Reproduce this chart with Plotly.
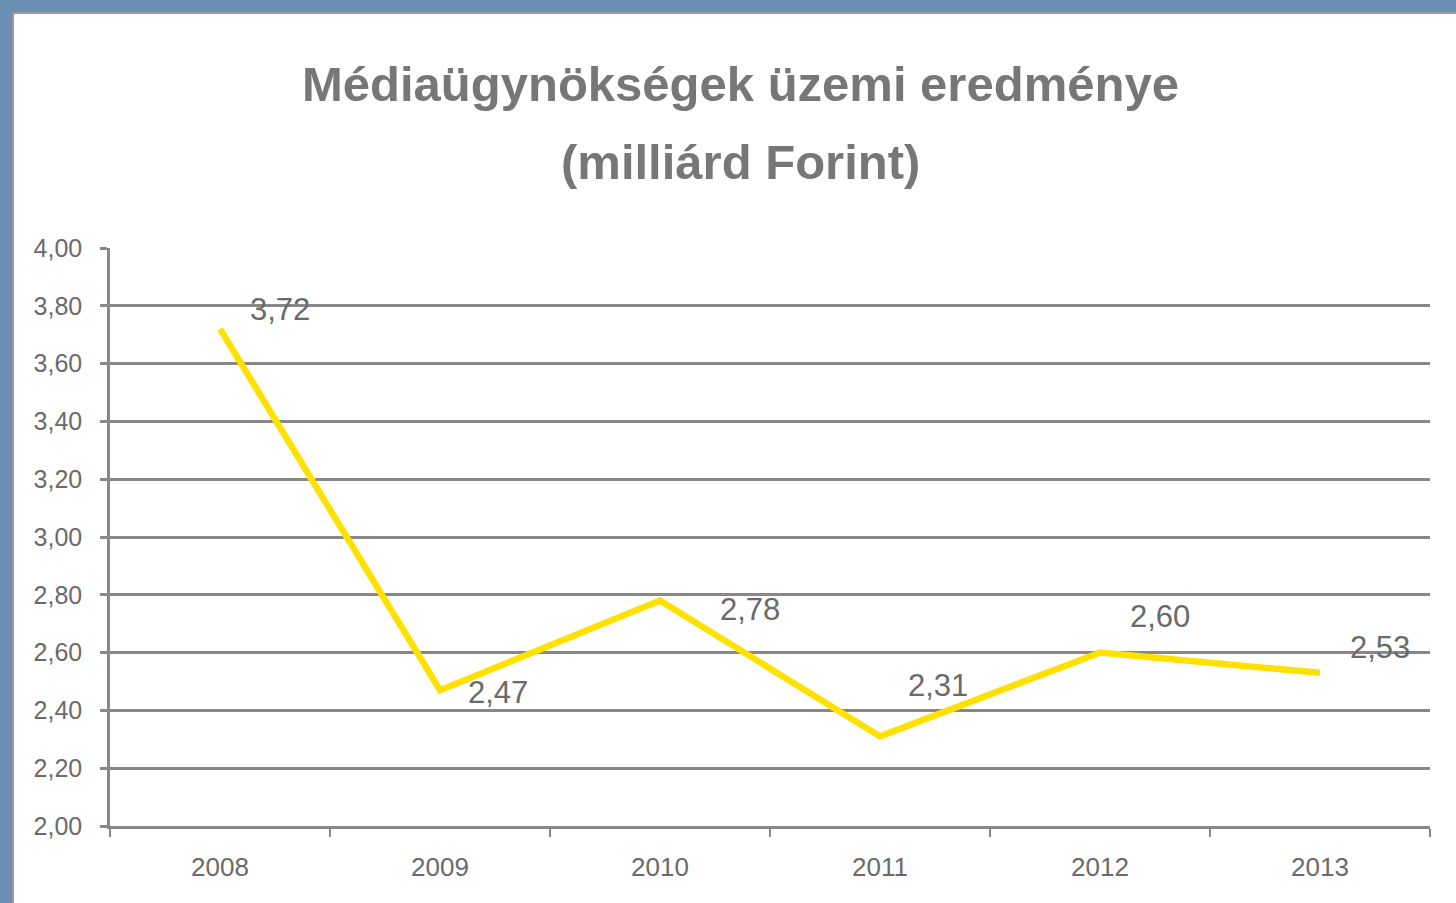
import plotly.graph_objects as go

years = ["2008", "2009", "2010", "2011", "2012", "2013"]
values = [3.72, 2.47, 2.78, 2.31, 2.60, 2.53]
value_labels = ["3,72", "2,47", "2,78", "2,31", "2,60", "2,53"]
y_ticks = [2.0, 2.2, 2.4, 2.6, 2.8, 3.0, 3.2, 3.4, 3.6, 3.8, 4.0]
y_tick_labels = ["2,00", "2,20", "2,40", "2,60", "2,80", "3,00", "3,20", "3,40", "3,60", "3,80", "4,00"]
title_lines = ["Médiaügynökségek üzemi eredménye", "(milliárd Forint)"]

# label offsets (pixels) relative to each point
label_dx = [60, 58, 90, 58, 60, 60]
label_dy = [19, -2, -9, 51, 36, 25]

FONT = "Liberation Sans Narrow, Arial Narrow, Liberation Sans, Arial, sans-serif"
GRAY = "#888888"
TEXT = "#6a6a6a"

fig = go.Figure()
fig.add_trace(go.Scatter(
    x=years, y=values, mode="lines",
    line=dict(color="#FFE100", width=6.5),
    hoverinfo="x+y",
))

for i, (v, lab, dx, dy) in enumerate(zip(values, value_labels, label_dx, label_dy)):
    fig.add_annotation(x=i, y=v, text=lab, showarrow=False,
                       xshift=dx, yshift=dy,
                       font=dict(family=FONT, size=31, color=TEXT))

W, H = 1456, 903
L, R, T, B = 110, 26, 248, 77
pw, ph = W - L - R, H - T - B

def px_to_paper_x(px):
    return (px - L) / pw

def px_to_paper_y(py):
    return (H - B - py) / ph

# white slide area with thin gray border
fig.add_shape(type="rect", xref="paper", yref="paper",
              x0=px_to_paper_x(13), x1=px_to_paper_x(1470),
              y0=px_to_paper_y(920), y1=px_to_paper_y(13),
              fillcolor="white", line=dict(color="#9a9a9a", width=2),
              layer="below")

fig.add_annotation(xref="paper", yref="paper", x=px_to_paper_x(740), y=px_to_paper_y(84),
                   text="<b>" + title_lines[0] + "</b>", showarrow=False,
                   font=dict(family=FONT, size=49, color="#777777"), yanchor="middle")
fig.add_annotation(xref="paper", yref="paper", x=px_to_paper_x(740), y=px_to_paper_y(162),
                   text="<b>" + title_lines[1] + "</b>", showarrow=False,
                   font=dict(family=FONT, size=49, color="#777777"), yanchor="middle")

fig.update_layout(
    width=W, height=H,
    margin=dict(l=L, r=R, t=T, b=B, pad=0),
    paper_bgcolor="#6a8fb2",
    plot_bgcolor="rgba(0,0,0,0)",
    showlegend=False,
    separators=", ",
    font=dict(family=FONT, color=TEXT),
)
fig.update_xaxes(
    type="category", range=[-0.5, 5.5],
    showline=True, linecolor=GRAY, linewidth=2.5,
    ticks="outside", tickson="boundaries", ticklen=8, tickwidth=2, tickcolor=GRAY,
    showgrid=False, ticklabelstandoff=16,
    tickfont=dict(family=FONT, size=26, color=TEXT),
)
fig.update_yaxes(
    range=[2.0, 4.0], tickvals=y_ticks, ticktext=y_tick_labels,
    showline=True, linecolor=GRAY, linewidth=2.5,
    ticks="outside", ticklen=7, tickwidth=2.5, tickcolor=GRAY,
    showgrid=True, gridcolor=GRAY, gridwidth=2.5,
    zeroline=False, ticklabelstandoff=13,
    tickfont=dict(family=FONT, size=25, color=TEXT),
)

fig.write_html("out.html")
